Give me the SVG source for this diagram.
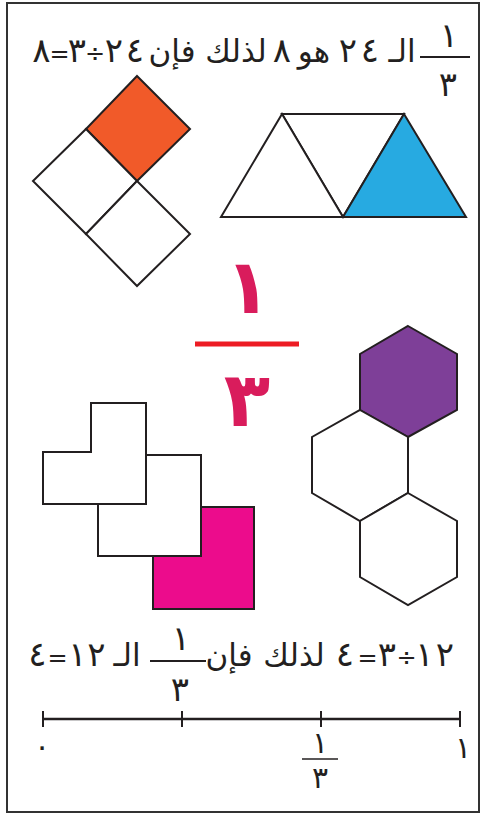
<svg xmlns="http://www.w3.org/2000/svg" width="482" height="815" viewBox="0 0 482 815">
<style>
.sh{stroke:#231f20;stroke-width:2;stroke-linejoin:miter}
.w{fill:#ffffff}
.t{font-family:"DejaVu Sans",sans-serif;fill:#231f20;text-anchor:middle}
.wd{font-size:31px}
.dg{font-size:34px}
.op{font-size:24px}
.sm{font-size:30px}
.big{font-family:"DejaVu Sans",sans-serif;fill:#d91c5c;font-size:76px;font-weight:bold;text-anchor:middle}
.ln{stroke:#231f20;stroke-width:2}
</style>
<rect x="7" y="3" width="472" height="809" fill="#ffffff" stroke="#333333" stroke-width="2"/>

<g id="title">
<text class="t dg" x="41.5" y="62">٨</text>
<text class="t op" x="59.5" y="62">=</text>
<text class="t dg" x="77" y="62">٣</text>
<text class="t op" x="95" y="62">÷</text>
<text class="t dg" x="114" y="62">٢</text>
<text class="t dg" x="135" y="62">٤</text>
<text class="t wd" x="172" y="62">فإن</text>
<text class="t wd" x="236" y="62">لذلك</text>
<text class="t dg" x="282" y="62">٨</text>
<text class="t wd" x="314" y="62">هو</text>
<text class="t dg" x="348" y="62">٢</text>
<text class="t dg" x="370" y="62">٤</text>
<text class="t wd" x="402" y="62">الـ</text>
<line class="ln" x1="420" y1="57" x2="470" y2="57"/>
<text class="t dg" x="449" y="47">١</text>
<text class="t dg" x="448" y="96">٣</text>
</g>

<g id="squares">
<polygon class="sh" fill="#f15a29" points="137,76 190,129 137,181 86,129"/>
<polygon class="sh w" points="86,129 137,181 86,234 33,181"/>
<polygon class="sh w" points="137,181 190,234 137,286 86,234"/>
</g>

<g id="triangles">
<polygon class="sh w" points="282,114 404,114 343,217"/>
<polygon class="sh w" points="282,114 343,217 221,217"/>
<polygon class="sh" fill="#27aae1" points="404,114 466,217 343,217"/>
</g>

<g id="bigfraction">
<text class="big" x="248" y="313">١</text>
<line x1="195" y1="344" x2="299" y2="344" stroke="#ed1c24" stroke-width="5"/>
<text class="big" x="247" y="426">٣</text>
</g>

<g id="lshapes">
<polygon class="sh w" points="91,403 146,403 146,504 43,504 43,452 91,452"/>
<polygon class="sh w" points="146,455 201,455 201,556 98,556 98,504 146,504"/>
<polygon class="sh" fill="#ec0c8c" points="201,507 254,507 254,609 153,609 153,556 201,556"/>
</g>

<g id="hexagons">
<polygon class="sh" fill="#7e3f98" points="408,326 457,354 457,410 408,437 360,410 360,354"/>
<polygon class="sh w" points="360,410 408,437 408,493 360,521 312,493 312,437"/>
<polygon class="sh w" points="408,493 457,521 457,577 408,605 360,577 360,521"/>
</g>

<g id="sentence">
<text class="t dg" x="37.5" y="666">٤</text>
<text class="t op" x="57.5" y="666">=</text>
<text class="t dg" x="77.5" y="666">١</text>
<text class="t dg" x="96.5" y="666">٢</text>
<text class="t wd" x="127" y="666">الـ</text>
<line class="ln" x1="150" y1="661" x2="206" y2="661"/>
<text class="t dg" x="181" y="650">١</text>
<text class="t dg" x="180" y="701">٣</text>
<text class="t wd" x="229" y="666">فإن</text>
<text class="t wd" x="294" y="666">لذلك</text>
<text class="t dg" x="345" y="666">٤</text>
<text class="t op" x="367.5" y="666">=</text>
<text class="t dg" x="387" y="666">٣</text>
<text class="t op" x="406.5" y="666">÷</text>
<text class="t dg" x="424.5" y="666">١</text>
<text class="t dg" x="445" y="666">٢</text>
</g>

<g id="numberline">
<line x1="43" y1="719" x2="460" y2="719" stroke="#231f20" stroke-width="2.5"/>
<line class="ln" x1="43" y1="711" x2="43" y2="727"/>
<line class="ln" x1="182" y1="711" x2="182" y2="727"/>
<line class="ln" x1="321" y1="711" x2="321" y2="727"/>
<line class="ln" x1="460" y1="711" x2="460" y2="727"/>
<text class="t sm" x="42" y="757">٠</text>
<text class="t sm" x="463" y="758">١</text>
<text class="t sm" x="320" y="753">١</text>
<line x1="302" y1="759" x2="338" y2="759" stroke="#231f20" stroke-width="1.5"/>
<text class="t sm" x="320" y="788">٣</text>
</g>
</svg>
